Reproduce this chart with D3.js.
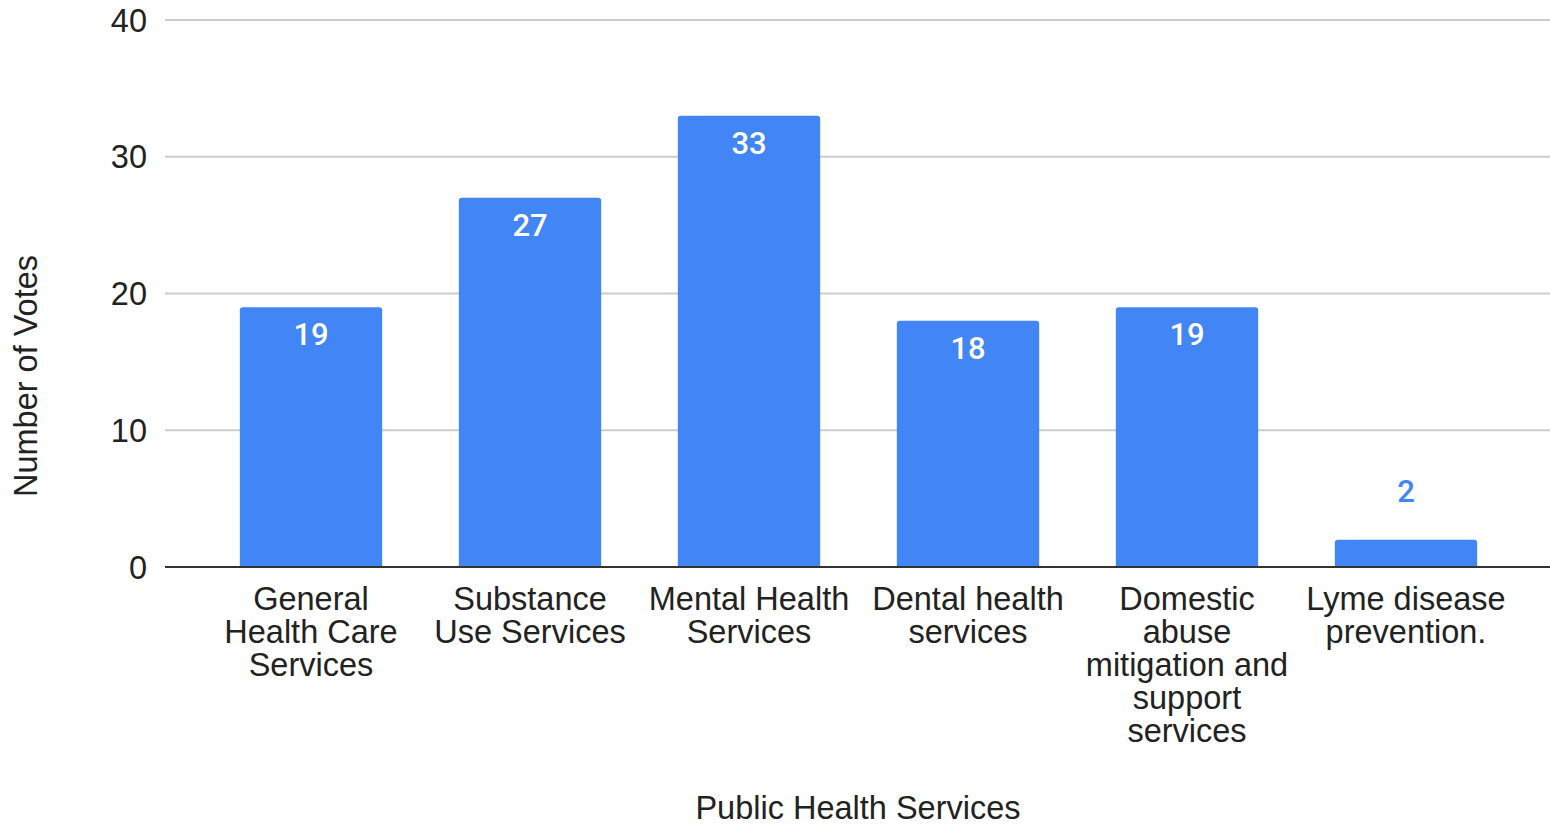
<!DOCTYPE html>
<html>
<head>
<meta charset="utf-8">
<script src="https://cdn.jsdelivr.net/npm/d3@7"></script>
<style>
  html, body { margin: 0; padding: 0; background: #fff; }
  svg { display: block; }
</style>
</head>
<body>
<svg id="chart" width="1550" height="827"></svg>
<script>
// Votes per public health service
const categories = [
  ["General", "Health Care", "Services"],
  ["Substance", "Use Services"],
  ["Mental Health", "Services"],
  ["Dental health", "services"],
  ["Domestic", "abuse", "mitigation and", "support", "services"],
  ["Lyme disease", "prevention."]
];
const votes = [19, 27, 33, 18, 19, 2];
const yTicks = [0, 10, 20, 30, 40];

const svg = d3.select("#chart");
const plotLeft = 165, plotRight = 1550;
const plotTop = 20, plotBottom = 567;
const axisFont = "Liberation Sans, Arial, sans-serif";
const axisSize = 32.5;

const keys = categories.map((c, i) => i);
const x = d3.scaleBand().domain(keys).range([201.5, 1515.5]).paddingInner(0.35).paddingOuter(0.175);
const y = d3.scaleLinear().domain([0, 40]).range([plotBottom, plotTop]);

// gridlines
svg.append("g").selectAll("line")
  .data(yTicks.filter(t => t !== 0))
  .join("line")
  .attr("x1", plotLeft).attr("x2", plotRight)
  .attr("y1", d => y(d)).attr("y2", d => y(d))
  .attr("stroke", "#cccccc").attr("stroke-width", 2);

// y tick labels
svg.append("g").selectAll("text")
  .data(yTicks)
  .join("text")
  .attr("x", 147).attr("y", d => y(d))
  .attr("dy", "0.36em")
  .attr("text-anchor", "end")
  .attr("font-family", axisFont).attr("font-size", axisSize)
  .attr("fill", "#222")
  .text(d => d);

// bars with rounded top corners
const r = 3;
function barPath(i) {
  const x0 = x(i), w = x.bandwidth();
  const top = y(votes[i]), bot = y(0);
  return `M${x0},${bot}V${top + r}Q${x0},${top} ${x0 + r},${top}H${x0 + w - r}Q${x0 + w},${top} ${x0 + w},${top + r}V${bot}Z`;
}
svg.append("g").selectAll("path")
  .data(keys)
  .join("path")
  .attr("d", d => barPath(d))
  .attr("fill", "#4285f4");

// value labels: inside for tall bars, above for short ones
const isInside = d => y(0) - y(votes[d]) > 60;
svg.append("g").selectAll("text")
  .data(keys)
  .join("text")
  .attr("x", d => x(d) + x.bandwidth() / 2)
  .attr("y", d => isInside(d) ? y(votes[d]) + 38 : y(votes[d]) - 38)
  .attr("text-anchor", "middle")
  .attr("font-family", "Roboto, sans-serif")
  .attr("font-weight", 500)
  .attr("font-size", 31)
  .attr("fill", d => isInside(d) ? "#ffffff" : "#4285f4")
  .text(d => votes[d]);

// baseline
svg.append("line")
  .attr("x1", plotLeft).attr("x2", plotRight)
  .attr("y1", plotBottom).attr("y2", plotBottom)
  .attr("stroke", "#333").attr("stroke-width", 2);

// category labels
const catG = svg.append("g");
keys.forEach(i => {
  const cx = x(i) + x.bandwidth() / 2;
  const t = catG.append("text")
    .attr("text-anchor", "middle")
    .attr("font-family", axisFont).attr("font-size", axisSize)
    .attr("fill", "#222");
  categories[i].forEach((line, k) => {
    t.append("tspan").attr("x", cx).attr("y", 610 + k * 33).text(line);
  });
});

// axis titles
svg.append("text")
  .attr("x", 858).attr("y", 819)
  .attr("text-anchor", "middle")
  .attr("font-family", axisFont).attr("font-size", axisSize)
  .attr("fill", "#222")
  .text("Public Health Services");

svg.append("text")
  .attr("transform", "translate(37,376) rotate(-90)")
  .attr("text-anchor", "middle")
  .attr("font-family", axisFont).attr("font-size", axisSize)
  .attr("fill", "#222")
  .text("Number of Votes");
</script>
</body>
</html>
